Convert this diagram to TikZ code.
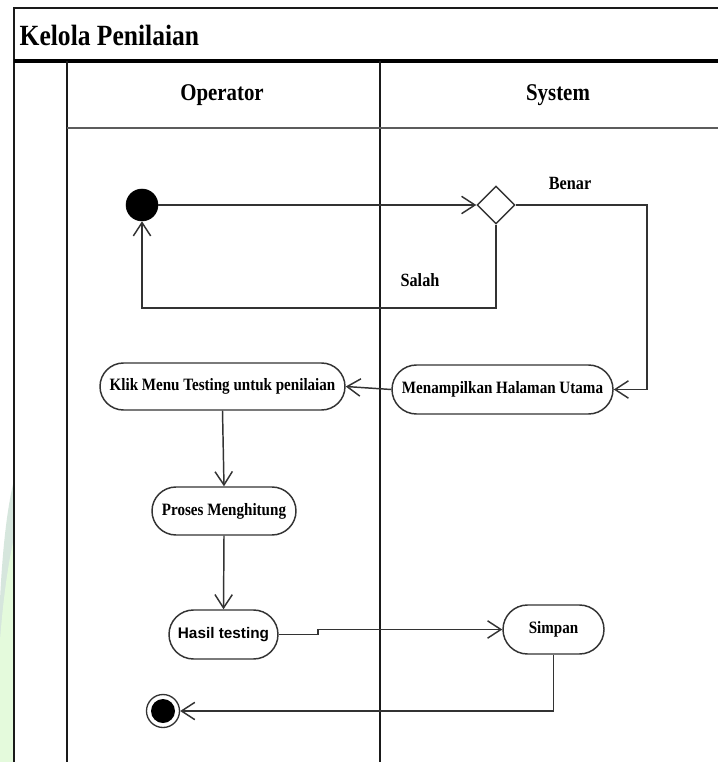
\documentclass[tikz,border=0pt]{standalone}
\usepackage{fontspec}
\setmainfont{Liberation Serif}
\newfontfamily\condserif[FakeStretch=0.87]{Liberation Serif}
\newfontfamily\armfont{Liberation Sans}
\usetikzlibrary{arrows.meta,shapes.misc,shapes.geometric}

\definecolor{ink}{HTML}{333333}
\definecolor{frameink}{HTML}{1A1A1A}
\definecolor{leaf}{HTML}{E4FADC}
\definecolor{haze}{HTML}{D6E6DD}

\tikzset{
  lane/.style={draw=frameink, line width=1.4pt},
  act/.style 2 args={draw=ink, line width=1.1pt, rounded rectangle, inner sep=0pt,
    minimum width=#1*0.75pt, minimum height=#2*0.75pt,
    font=\condserif\bfseries\fontsize{13}{15}\selectfont},
  flow/.style={draw=ink, line width=1.1pt, -{Straight Barb[length=10pt,width=13pt,line width=1.1pt]}},
  plain/.style={draw=ink, line width=1.1pt},
  guard/.style={font=\condserif\bfseries\fontsize{14}{16}\selectfont},
  lanehead/.style={font=\condserif\bfseries\fontsize{18}{20}\selectfont},
}

\begin{document}
\begin{tikzpicture}[x=0.75pt,y=-0.75pt]
\useasboundingbox (0,0) rectangle (718,762);
\fill[white] (0,0) rectangle (718,762);

% faint emblem at the left margin
\fill[haze] (0,600) .. controls (3,540) and (8,505) .. (14,480) -- (14,762) -- (0,762) -- cycle;
\fill[leaf] (0,640) .. controls (4,590) and (9,560) .. (14,538) -- (14,762) -- (0,762) -- cycle;

% swimlane frame
\draw[lane] (14,762) -- (14,8) -- (718,8);
\draw[draw=black, line width=2.4pt] (14,61) -- (718,61);
\draw[lane] (67,61) -- (67,762);
\draw[lane] (380,61) -- (380,762);
\draw[draw=ink!80, line width=1.6pt] (67,128) -- (718,128);

\node[anchor=west, font=\condserif\bfseries\fontsize{22}{24}\selectfont] (title) at (15,35) {Kelola Penilaian};
\node[lanehead] (hop) at (222,95) {Operator};
\node[lanehead] (hsys) at (558,95) {System};

% activity nodes
\node[circle, fill=black, draw=black, minimum size=32*0.75pt, inner sep=0pt] (start) at (142,205) {};
\node[diamond, draw=ink, line width=1.1pt, minimum size=38*0.75pt, inner sep=0pt, shape aspect=1] (dec) at (496,205) {};
\node[act={221}{49}] (menam) at (502.5,389.5) {Menampilkan Halaman Utama};
\node[act={245}{47}] (klik) at (222.5,386.5) {Klik Menu Testing untuk penilaian};
\node[act={144}{48}] (proses) at (224,511) {Proses Menghitung};
\node[act={109}{49}, font=\armfont\bfseries\fontsize{11.5}{13}\selectfont] (hasil) at (223.5,634.5) {Hasil testing};
\node[act={101}{49}] (simpan) at (553.5,629.5) {Simpan};
\node[circle, draw=ink, line width=1pt, minimum size=33*0.75pt, inner sep=0pt] (end) at (163,711) {};
\node[circle, fill=black, minimum size=24*0.75pt, inner sep=0pt] (endcore) at (163,711) {};

\node[guard] (benar) at (570,183) {Benar};
\node[guard] (salah) at (420,280) {Salah};

% routing points
\coordinate (bturn) at (647,205);
\coordinate (sturn) at (142,308);
\coordinate (hs1) at (318,634.5);
\coordinate (hs2) at (318,629.5);

% control flow
\draw[flow] (start) -- (dec.west);
\draw[flow] (dec.east) -- (bturn) |- (menam.east);
\draw[flow] (dec.south) |- (sturn) -- (start.south);
\draw[flow] (menam.west) -- (klik.east);
\draw[flow] (klik.south) -- (proses.north);
\draw[flow] (proses.south) -- (hasil.north);
\draw[flow] (hasil.east) -- (hs1) -- (hs2) -- (simpan.west);
\draw[flow] (simpan.south) |- (end.east);
\end{tikzpicture}
\end{document}
